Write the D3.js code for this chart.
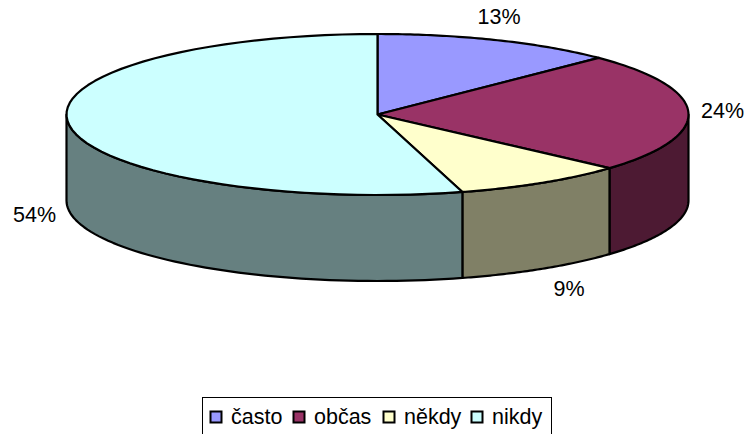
<!DOCTYPE html>
<html><head><meta charset="utf-8">
<script src="https://cdn.jsdelivr.net/npm/d3@7"></script>
<style>html,body{margin:0;padding:0;background:#fff;overflow:hidden}svg{display:block}text{font-family:"Liberation Sans",Arial,sans-serif;font-size:21.5px;fill:#000}</style>
</head><body><svg id="c" width="749" height="434"></svg>
<script>
const categories = ["často","občas","někdy","nikdy"];
const values = [12.6,24,9,54.4];
const labels = ["13%","24%","9%","54%"];
const colors = ["#9999ff","#993366","#ffffcc","#ccffff"];
const sideColors = ["#4d4d80","#4d1a33","#808066","#668080"];
const labelPos = [[499,24],[722.5,118],[569,296],[34.5,222]];
const legendX = [231,314,404,492];

const cx=377.5, cy=114.5, rx=311, ry=80.5, depth=86;
const svg=d3.select("#c");
const pie=d3.pie().sort(null).value(d=>d);
const arcs=pie(values);
const px=d3.scaleLinear().domain([-1,1]).range([cx-rx,cx+rx]);
const py=d3.scaleLinear().domain([-1,1]).range([cy-ry,cy+ry]);
const pt=(a,dz=0)=>[px(Math.sin(a)),py(-Math.cos(a))+dz];
const line=d3.line();
const sample=(a0,a1,dz)=>d3.range(0,61).map(i=>pt(a0+(a1-a0)*i/60,dz));

// side wall (front half only)
arcs.forEach((d,i)=>{
  const a0=Math.max(d.startAngle,Math.PI/2), a1=Math.min(d.endAngle,3*Math.PI/2);
  if(a1<=a0) return;
  const pts=sample(a0,a1,0).concat(sample(a1,a0,depth));
  svg.append("path").attr("d",line(pts)+"Z").attr("fill",sideColors[i])
    .attr("stroke","#000").attr("stroke-width",2.2).attr("stroke-linejoin","round");
});
// top face
arcs.forEach((d,i)=>{
  const pts=[[cx,cy]].concat(sample(d.startAngle,d.endAngle,0));
  svg.append("path").attr("d",line(pts)+"Z").attr("fill",colors[i])
    .attr("stroke","#000").attr("stroke-width",2.2).attr("stroke-linejoin","round");
});
// data labels
labels.forEach((t,i)=>{
  svg.append("text").attr("x",labelPos[i][0]).attr("y",labelPos[i][1]).attr("text-anchor","middle").text(t);
});
// legend
svg.append("rect").attr("x",202.5).attr("y",397.5).attr("width",349).attr("height",60)
  .attr("fill","#fff").attr("stroke","#000").attr("stroke-width",1);
categories.forEach((t,i)=>{
  svg.append("rect").attr("x",legendX[i]-20.5).attr("y",411.5).attr("width",11).attr("height",11)
    .attr("fill",colors[i]).attr("stroke","#000").attr("stroke-width",2);
  svg.append("text").attr("x",legendX[i]).attr("y",424).text(t);
});
</script></body></html>
